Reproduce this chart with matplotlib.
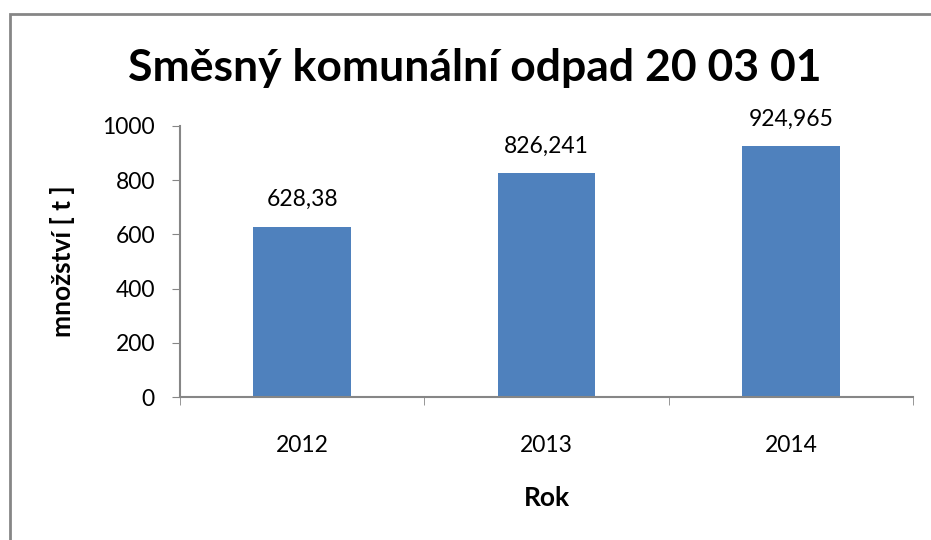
import matplotlib
matplotlib.use("Agg")
import matplotlib.pyplot as plt
from matplotlib.lines import Line2D

years = ["2012", "2013", "2014"]
values = [628.38, 826.241, 924.965]
value_labels = ["628,38", "826,241", "924,965"]
yticks = [0, 200, 400, 600, 800, 1000]

plt.rcParams['font.family'] = ['Lato', 'DejaVu Sans']

W, H = 931, 540
fig = plt.figure(figsize=(W / 100, H / 100), dpi=100)

# figure border (gray frame: left and top edges visible)
bx, by = 9.5 / W, 1 - 13.5 / H
fig.lines.append(Line2D([bx, bx, 1.0], [0.0, by, by], transform=fig.transFigure,
                        color='#868686', linewidth=2, solid_joinstyle='miter'))

ax = fig.add_axes([180 / W, (H - 397) / H, (913 - 180) / W, (397 - 126) / H])
x = range(len(years))
ax.bar(x, values, width=0.4, color='#4F81BD', zorder=2)
ax.set_xlim(-0.5, 2.5)
ax.set_ylim(0, 1000)
ax.set_yticks(yticks)
ax.set_yticklabels([str(v) for v in yticks], fontsize=16.5)
ax.set_xticks(list(x))
ax.set_xticklabels(years, fontsize=16.5)
ax.tick_params(axis='x', length=0, pad=27)
ax.set_xticks([-0.5, 0.5, 1.5, 2.5], minor=True)
ax.tick_params(axis='x', which='minor', length=6, color='#868686', direction='out')
ax.tick_params(axis='y', length=6, color='#868686', direction='out', pad=12)
for s in ['top', 'right']:
    ax.spines[s].set_visible(False)
for s in ['left', 'bottom']:
    ax.spines[s].set_color('#868686')
    ax.spines[s].set_linewidth(1.5)

for xi, v, lab in zip(x, values, value_labels):
    ax.annotate(lab, (xi, v), xytext=(0, 12), textcoords='offset points',
                ha='center', va='bottom', fontsize=16.5)

ax.set_xlabel("Rok", fontsize=19, fontweight='bold', labelpad=22)
ax.set_ylabel("množství [ t ]", fontsize=19, fontweight='bold', labelpad=20)
fig.text(475 / W, 1 - 68 / H, "Směsný komunální odpad 20 03 01", ha='center', va='center',
         fontsize=32, fontweight='bold')

fig.savefig("out.png", dpi=100)
